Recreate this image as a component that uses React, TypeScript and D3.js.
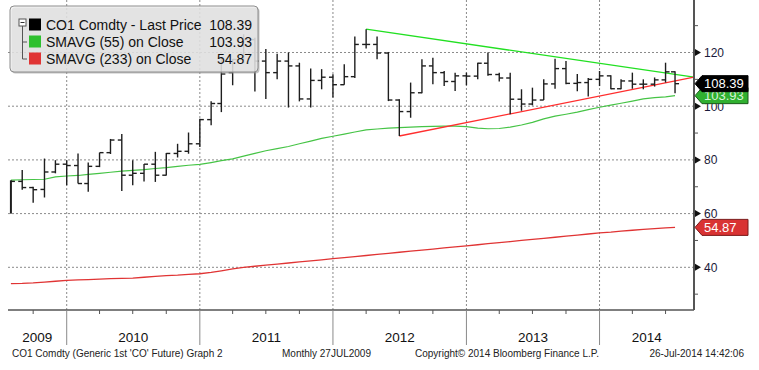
import * as d3 from "d3";

// monthly bars, Jul 2009 .. Jul 2014 (month-end dated)
const opens = [69.5, 72.0, 69.7, 69.0, 75.5, 78.4, 77.9, 71.2, 77.6, 82.7, 87.4, 74.3, 75.0, 78.4, 74.3, 82.4, 83.2, 86.0, 95.0, 101.0, 112.5, 117.4, 124.8, 116.8, 112.5, 116.8, 115.0, 102.7, 109.6, 110.8, 108.0, 111.0, 123.0, 123.0, 119.8, 102.3, 98.0, 105.0, 115.0, 112.5, 109.2, 111.3, 111.2, 116.0, 111.8, 110.5, 102.6, 100.8, 102.3, 108.3, 114.0, 108.5, 108.8, 110.0, 111.3, 106.5, 109.4, 108.2, 108.2, 109.8, 112.8];
const highs = [72.4, 76.2, 70.0, 80.5, 79.9, 79.9, 82.4, 79.0, 82.7, 87.8, 89.6, 79.9, 78.5, 83.0, 82.6, 86.0, 90.2, 95.3, 101.8, 117.5, 117.6, 126.8, 125.5, 121.3, 119.5, 120.0, 116.2, 114.0, 113.8, 111.9, 115.6, 126.0, 128.7, 126.0, 120.2, 102.6, 108.8, 117.5, 118.0, 113.1, 112.5, 112.5, 116.2, 120.0, 112.5, 112.5, 106.3, 106.9, 110.0, 117.7, 116.8, 112.0, 110.5, 113.1, 111.5, 110.0, 112.5, 110.0, 110.7, 116.2, 113.0];
const lows = [60.0, 68.9, 64.0, 66.0, 75.0, 70.6, 71.2, 68.1, 77.3, 82.2, 68.4, 70.6, 72.0, 71.8, 74.2, 80.9, 82.3, 84.8, 92.9, 97.8, 107.8, 116.0, 105.5, 102.7, 110.0, 99.5, 101.8, 99.5, 106.3, 103.2, 108.0, 110.5, 121.5, 117.5, 101.9, 88.9, 95.7, 104.8, 108.2, 107.5, 105.7, 107.8, 110.0, 111.3, 109.2, 97.0, 98.3, 100.3, 102.3, 106.5, 108.2, 105.6, 103.6, 107.5, 106.3, 106.3, 106.5, 106.3, 107.3, 108.8, 104.8];
const closes = [72.0, 69.7, 68.9, 75.5, 78.4, 77.9, 71.2, 77.6, 82.7, 87.4, 74.3, 75.0, 78.4, 74.3, 82.4, 83.2, 86.0, 95.0, 101.0, 112.0, 117.4, 124.8, 116.8, 112.5, 116.8, 115.0, 102.7, 109.6, 110.8, 108.0, 111.0, 123.0, 123.0, 119.8, 102.3, 98.0, 105.0, 115.0, 112.5, 109.2, 111.3, 111.2, 116.0, 111.8, 110.5, 102.6, 100.8, 102.3, 108.3, 114.0, 108.5, 108.8, 110.0, 111.3, 106.5, 109.4, 108.2, 108.2, 109.8, 112.8, 108.39];

const sma55 = [72.5, 72.6, 72.7, 72.8, 73.7, 74.0, 74.2, 74.6, 75.0, 75.4, 75.8, 76.1, 76.4, 76.8, 77.1, 77.6, 78.0, 78.3, 79.0, 79.7, 80.4, 81.4, 82.4, 83.4, 84.2, 85.0, 86.0, 87.0, 88.0, 88.8, 89.6, 90.4, 91.2, 91.5, 91.8, 92.0, 92.2, 92.4, 92.5, 92.6, 92.6, 92.4, 91.8, 91.6, 91.7, 92.2, 93.0, 94.0, 95.3, 96.3, 97.0, 97.8, 98.7, 99.6, 100.4, 101.1, 101.9, 102.7, 103.2, 103.5, 103.93];
const sma233 = [33.9, 34.0, 34.2, 34.5, 34.8, 35.1, 35.3, 35.4, 35.6, 35.8, 35.9, 36.0, 36.3, 36.6, 36.9, 37.1, 37.4, 37.6, 38.1, 38.7, 39.4, 40.0, 40.4, 40.8, 41.2, 41.6, 42.0, 42.4, 42.8, 43.2, 43.6, 44.0, 44.4, 44.8, 45.2, 45.6, 46.0, 46.4, 46.8, 47.2, 47.6, 48.0, 48.4, 48.8, 49.2, 49.6, 50.0, 50.4, 50.8, 51.2, 51.6, 52.0, 52.4, 52.8, 53.1, 53.5, 53.8, 54.1, 54.4, 54.7, 54.87];

const firstMonthEnd = new Date(2009, 7, 1);
const lastBarDate = new Date(2014, 6, 27);
const domainStart = new Date(2009, 6, 24);
const domainEnd = new Date(2014, 8, 17);

const trendHigh = [{ date: new Date(2012, 3, 1), value: 128.7 }, { date: domainEnd, value: 110.8 }];
const trendLow = [{ date: new Date(2012, 6, 1), value: 88.9 }, { date: domainEnd, value: 110.8 }];

const years = [2009, 2010, 2011, 2012, 2013, 2014];
const gridValues = [40, 60, 80, 100, 120];
const minorValues = [30, 50, 70, 90, 110, 130];

const legendRows = [
  { label: "CO1 Comdty - Last Price", value: "108.39", color: "#000000" },
  { label: "SMAVG (55) on Close", value: "103.93", color: "#2fc02f" },
  { label: "SMAVG (233) on Close", value: "54.87", color: "#e03434" },
];

const FONT = "'Liberation Sans', Arial, sans-serif";

const barDates = opens.map((_, i) => (i === opens.length - 1 ? lastBarDate : d3.timeMonth.offset(firstMonthEnd, i)));

export default function App() {
  const left = 8, right = 694, top = 0, bottom = 310;
  const x = d3.scaleTime().domain([domainStart, domainEnd]).range([left, right]);
  const y = d3.scaleLinear().domain([24.1, 139.55]).range([bottom, top]);

  const lineOf = d3.line<number>().x((_, i) => x(barDates[i])).y((d) => y(d));
  const trendLine = d3.line<{ date: Date; value: number }>().x((d) => x(d.date)).y((d) => y(d.value));

  const yearStarts = years.slice(1).map((yr) => new Date(yr, 0, 1));
  const quarters = d3.timeMonth.every(3)!.range(domainStart, domainEnd).filter((d) => d.getMonth() !== 0);

  const tag = (v: number, fill: string, stroke: string, label: string, textFill: string) => {
    const c = y(v);
    const pts = [[695, c], [702, c - 8], [748, c - 8], [748, c + 8], [702, c + 8]].map((p) => p.join(",")).join(" ");
    return (
      <g key={label}>
        <polygon points={pts} fill={fill} stroke={stroke} strokeWidth={1} />
        <text x={704} y={c + 4.5} fontSize={13} fill={textFill}>{label}</text>
      </g>
    );
  };

  return (
    <svg width={759} height={370} style={{ position: "absolute", left: 0, top: 0, background: "#fff" }} fontFamily={FONT}>
      {/* grid */}
      {gridValues.map((v) => (
        <line key={v} x1={left} x2={right} y1={y(v)} y2={y(v)} stroke="#8a8a8a" strokeDasharray="2,2" />
      ))}
      {yearStarts.map((d) => (
        <line key={+d} x1={x(d)} x2={x(d)} y1={top} y2={bottom} stroke="#8a8a8a" strokeDasharray="2,2" />
      ))}

      {/* moving averages */}
      <path d={lineOf(sma233) ?? ""} fill="none" stroke="#e03434" strokeWidth={1.3} />
      <path d={lineOf(sma55) ?? ""} fill="none" stroke="#46c446" strokeWidth={1.2} />

      {/* trend lines */}
      <path d={trendLine(trendHigh) ?? ""} fill="none" stroke="#22e022" strokeWidth={1.3} />
      <path d={trendLine(trendLow) ?? ""} fill="none" stroke="#ff2e2e" strokeWidth={1.3} />

      {/* OHLC bars */}
      <g stroke="#1e1e1e" strokeWidth={1.4}>
        {opens.map((o, i) => {
          const bx = x(barDates[i]);
          return (
            <g key={i}>
              <line x1={bx} x2={bx} y1={y(highs[i])} y2={y(lows[i])} strokeWidth={i === 0 ? 2 : 1.4} />
              {i > 0 && <line x1={bx - 4} x2={bx} y1={y(o)} y2={y(o)} />}
              <line x1={bx} x2={bx + 4} y1={y(closes[i])} y2={y(closes[i])} />
            </g>
          );
        })}
      </g>

      {/* legend */}
      <rect x={11.5} y={7.5} width={248} height={66} rx={4} fill="#999" opacity={0.6} />
      <rect x={10} y={6} width={248} height={66} rx={4} fill="#f0f0f0" fillOpacity={0.72} stroke="#8c8c8c" />
      <rect x={19} y={19} width={7} height={7} fill="#fff" stroke="#555" />
      <line x1={20.5} x2={24.5} y1={22.5} y2={22.5} stroke="#333" />
      <path d="M22.5,26 V59 H27 M22.5,42 H27" fill="none" stroke="#555" />
      {legendRows.map((r, i) => {
        const cy = 24.5 + i * 17;
        return (
          <g key={r.label}>
            <rect x={29} y={cy - 6} width={12} height={12} fill={r.color} />
            <text x={46} y={cy + 5} fontSize={14} fill="#111">{r.label}</text>
            <text x={252} y={cy + 5} fontSize={14} fill="#111" textAnchor="end">{r.value}</text>
          </g>
        );
      })}

      {/* bottom axis */}
      <line x1={left} x2={right} y1={bottom} y2={bottom} stroke="#555" strokeWidth={1.5} />
      {quarters.map((d) => (
        <line key={+d} x1={x(d)} x2={x(d)} y1={bottom} y2={bottom + 4} stroke="#555" />
      ))}
      {yearStarts.map((d) => (
        <line key={+d} x1={x(d)} x2={x(d)} y1={bottom} y2={345} stroke="#8a8a8a" />
      ))}
      {years.map((yr) => {
        const a = Math.max(x(new Date(yr, 0, 1)), left);
        const b = Math.min(x(new Date(yr + 1, 0, 1)), right);
        return (
          <text key={yr} x={(a + b) / 2} y={342} fontSize={13.5} textAnchor="middle" fill="#111">{yr}</text>
        );
      })}

      {/* right axis */}
      <line x1={right} x2={right} y1={top} y2={bottom} stroke="#555" strokeWidth={2} />
      {minorValues.map((v) => (
        <line key={v} x1={right} x2={right + 4} y1={y(v)} y2={y(v)} stroke="#555" />
      ))}
      {gridValues.map((v) => (
        <g key={v}>
          <polygon points={`${right + 1},${y(v) - 3.5} ${right + 7},${y(v)} ${right + 1},${y(v) + 3.5}`} fill="#111" />
          <text x={right + 10} y={y(v) + 4.5} fontSize={12} fill="#1a1a3a">{v}</text>
        </g>
      ))}

      {/* last value tags */}
      {tag(54.87, "#d93333", "#7a1a1a", "54.87", "#fff")}
      {tag(103.93, "#30b030", "#1a5a1a", "103.93", "#d8f5d8")}
      {tag(108.39, "#000", "#000", "108.39", "#fff")}

      {/* footer */}
      <g fontSize={10} fill="#222">
        <text x={12} y={357}>CO1 Comdty (Generic 1st 'CO' Future) Graph 2</text>
        <text x={282} y={357}>Monthly 27JUL2009</text>
        <text x={415} y={357}>Copyright© 2014 Bloomberg Finance L.P.</text>
        <text x={744} y={357} textAnchor="end">26-Jul-2014 14:42:06</text>
      </g>
    </svg>
  );
}
